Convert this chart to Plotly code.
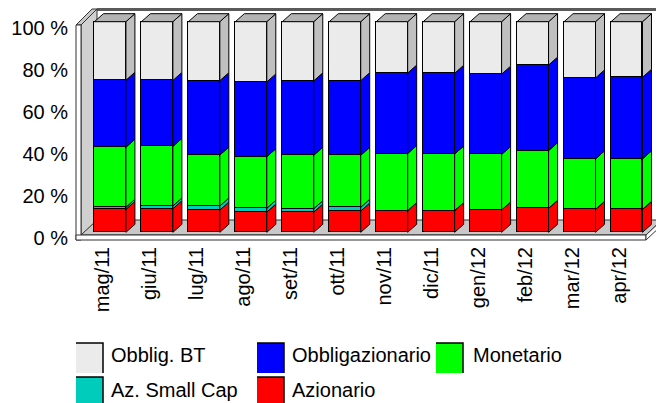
import plotly.graph_objects as go

# ---------------- data ----------------
months = ["mag/11", "giu/11", "lug/11", "ago/11", "set/11", "ott/11",
          "nov/11", "dic/11", "gen/12", "feb/12", "mar/12", "apr/12"]
azionario = [10.9, 11.2, 10.6, 9.6, 9.6, 10.1, 10.3, 10.3, 10.6, 11.4, 10.9, 10.9]
small_cap = [1.0, 1.3, 1.9, 1.8, 1.6, 1.8, 0.0, 0.0, 0.0, 0.0, 0.0, 0.0]
monetario = [28.5, 28.3, 24.2, 24.5, 25.4, 24.7, 27.1, 26.9, 26.4, 27.4, 24.0, 24.0]
obbligazionario = [31.8, 31.3, 35.3, 35.5, 35.3, 35.4, 38.2, 38.3, 38.1, 40.6, 38.4, 38.7]
obblig_bt = [27.8, 27.9, 28.0, 28.6, 28.1, 28.0, 24.4, 24.5, 24.9, 20.6, 26.7, 26.4]
y_ticks = [0, 20, 40, 60, 80, 100]
y_ticktext = ["0 %", "20 %", "40 %", "60 %", "80 %", "100 %"]

series = [
    ("Azionario", azionario, "#ff0000", "#ff0000"),
    ("Az. Small Cap", small_cap, "#00ccbb", "#00ccbb"),
    ("Monetario", monetario, "#00ff00", "#00ff00"),
    ("Obbligazionario", obbligazionario, "#0000ff", "#0000ff"),
    ("Obblig. BT", obblig_bt, "#ebebeb", "#c0c0c0"),
]

# ---------------- geometry (reference pixel space, page has 8px body margin) ----------------
OFF = 8
W, H = 664 - OFF, 403 - OFF
PL, PR, PT, PB = 76, 664, 8, 242          # plot area in reference pixels
L, R, T, B = PL - OFF, 664 - PR, PT - OFF, 403 - PB
pw, ph = PR - PL, PB - PT
X0, X1 = -0.564, 11.957
Y0, Y1 = -4.6, 106.5
ux = pw / (X1 - X0)          # px per x unit
uy = ph / (Y1 - Y0)          # px per y unit
shift = 7.7 / ux             # bar front offset from label
bw = 0.67
dx = 9 / ux
dy = 8 / uy

def pxx(x):
    return (x - PL) / pw

def pyy(y):
    return (PB - y) / ph

FONT = "Liberation Sans, Arial, sans-serif"
FS = 20

fig = go.Figure()
xs = [i + shift for i in range(len(months))]

for name, vals, col, side in series:
    fig.add_trace(go.Bar(x=xs, y=vals, name=name, width=bw,
                         marker=dict(color=col, line=dict(color="#000000", width=1)),
                         hoverinfo="skip", showlegend=False))

# side faces computed from the stacks
base = [0.0] * len(months)
for name, vals, col, side in series:
    px_, py_ = [], []
    for i, v in enumerate(vals):
        xr = xs[i] + bw / 2
        y0, y1 = base[i], base[i] + v
        px_ += [xr, xr + dx, xr + dx, xr, xr, None]
        py_ += [y0, y0 + dy, y1 + dy, y1, y0, None]
        base[i] = y1
    fig.add_trace(go.Scatter(x=px_, y=py_, mode="lines", fill="toself",
                             fillcolor=side, line=dict(color="#000000", width=1),
                             hoverinfo="skip", showlegend=False))

# top faces
tx, ty = [], []
for i in range(len(months)):
    xl, xr, top = xs[i] - bw / 2, xs[i] + bw / 2, base[i]
    tx += [xl, xl + dx, xr + dx, xr, xl, None]
    ty += [top, top + dy, top + dy, top, top, None]
fig.add_trace(go.Scatter(x=tx, y=ty, mode="lines", fill="toself",
                         fillcolor="#b4b4b4", line=dict(color="#000000", width=1),
                         hoverinfo="skip", showlegend=False))

# ---------------- 3D frame (walls / floor) ----------------
def poly(points, fill, lc="#333333", lw=1):
    path = "M " + " L ".join(f"{pxx(a)},{pyy(b)}" for a, b in points) + " Z"
    return dict(type="path", path=path, xref="paper", yref="paper",
                fillcolor=fill, line=dict(color=lc, width=lw), layer="below")

shapes = []
shapes.append(dict(type="line", xref="paper", yref="paper",
                   x0=pxx(97), y0=pyy(9.5), x1=pxx(664), y1=pyy(9.5),
                   line=dict(color="#5a5a5a", width=3), layer="below"))
shapes.append(poly([(81, 25), (97, 9), (97, 220), (81, 236)], "#d0d0d0"))
shapes.append(poly([(76, 25), (92, 9), (97, 9), (81, 25)], "#c8c8c8"))
shapes.append(poly([(76, 25), (81, 25), (81, 240), (76, 240)], "#ffffff"))
shapes.append(poly([(81, 235), (646, 235), (662, 220), (97, 220)], "#c8c8c8"))
shapes.append(poly([(76, 235), (646, 235), (646, 240), (76, 240)], "#ffffff"))
shapes.append(poly([(646, 235), (662, 220), (662, 225), (646, 240)], "#ffffff"))

# ---------------- custom legend ----------------
legend_items = [
    ("Obblig. BT", "#ebebeb", 76, 343, 373, 109, 355),
    ("Obbligazionario", "#0000ff", 257, 343, 373, 290, 355),
    ("Monetario", "#00ff00", 436, 343, 373, 471, 355),
    ("Az. Small Cap", "#00ccbb", 76, 377, 403, 109, 390),
    ("Azionario", "#ff0000", 257, 377, 403, 290, 390),
]
annotations = []
for text, col, sx, sy0, sy1, tx_, ty_ in legend_items:
    shapes.append(dict(type="rect", xref="paper", yref="paper",
                       x0=pxx(sx), x1=pxx(sx + 27), y0=pyy(sy1), y1=pyy(sy0),
                       fillcolor=col, line=dict(width=0)))
    shapes.append(dict(type="path", xref="paper", yref="paper",
                       path=f"M {pxx(sx)},{pyy(sy0)} L {pxx(sx + 27)},{pyy(sy0)} L {pxx(sx + 27)},{pyy(sy1)}",
                       line=dict(color="#000000", width=1.5)))
    annotations.append(dict(text=text, xref="paper", yref="paper",
                            x=pxx(tx_), y=pyy(ty_), xanchor="left", yanchor="middle",
                            showarrow=False, font=dict(family=FONT, size=FS, color="#000000")))

fig.update_layout(
    width=W, height=H,
    margin=dict(l=L, r=R, t=T, b=B, pad=0),
    barmode="stack",
    bargap=0,
    paper_bgcolor="#ffffff", plot_bgcolor="rgba(0,0,0,0)",
    showlegend=False,
    shapes=shapes,
    annotations=annotations,
    font=dict(family=FONT, size=FS, color="#000000"),
    xaxis=dict(range=[X0, X1], tickmode="array", tickvals=list(range(len(months))),
               ticktext=months, tickangle=-90, showgrid=False, zeroline=False,
               showline=False, ticks="", fixedrange=True,
               tickfont=dict(family=FONT, size=FS, color="#000000")),
    yaxis=dict(range=[Y0, Y1], tickmode="array", tickvals=y_ticks, ticktext=y_ticktext,
               showgrid=False, zeroline=False, showline=False, ticks="",
               ticklabelshift=6, ticklabelstandoff=7, fixedrange=True,
               tickfont=dict(family=FONT, size=FS, color="#000000")),
)

fig.write_html("out.html")
